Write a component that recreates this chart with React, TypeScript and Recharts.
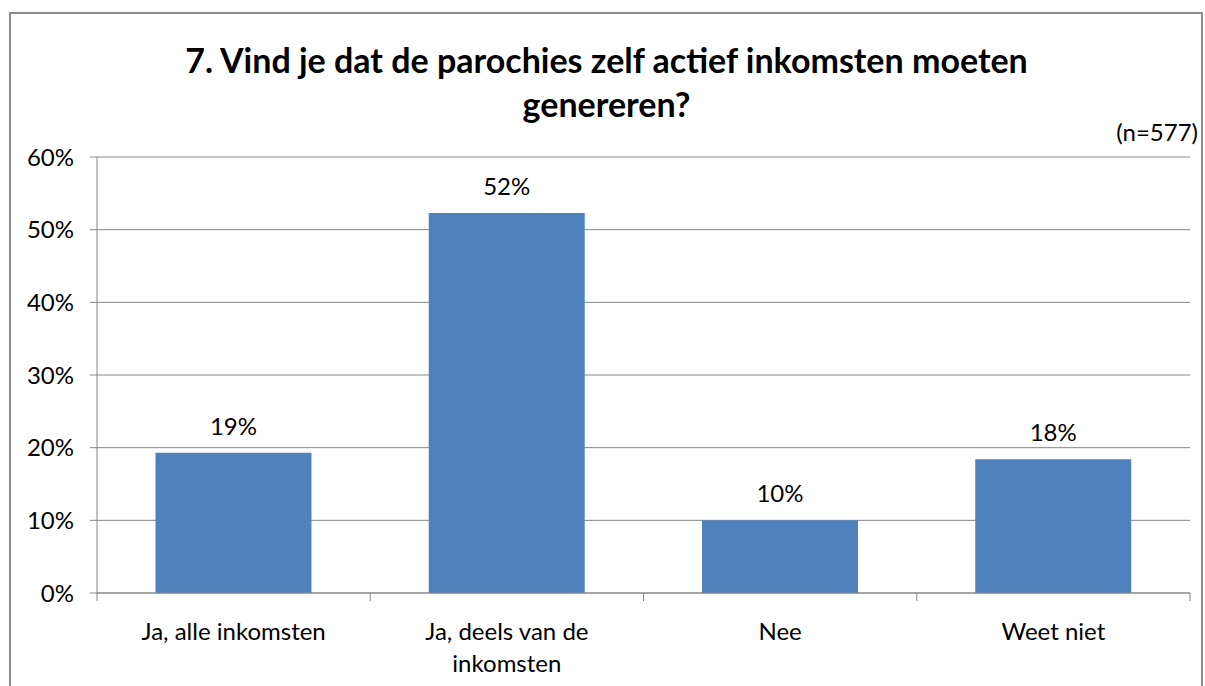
import React from "react";
import { BarChart, Bar, XAxis, YAxis, CartesianGrid, LabelList } from "recharts";

const categories = ["Ja, alle inkomsten", "Ja, deels van de\ninkomsten", "Nee", "Weet niet"];
const shares = [19.3, 52.3, 10.0, 18.4];
const yTicks = [0, 10, 20, 30, 40, 50, 60];
const title = ["7. Vind je dat de parochies zelf actief inkomsten moeten", "genereren?"];
const note = "(n=577)";

const data = categories.map((name, i) => ({ name, value: shares[i] }));

const FONT = "Lato, 'Open Sans', sans-serif";
const AXIS = "#868686";
const BAND = 1093 / 4; // plot width / number of categories

const CategoryTick = (props: any) => {
  const { x, y, payload, index } = props;
  const lines = String(payload.value).split("\n");
  return (
    <g>
      <line x1={x - BAND / 2} y1={y - 8} x2={x - BAND / 2} y2={y} stroke={AXIS} />
      {index === categories.length - 1 && (
        <line x1={x + BAND / 2} y1={y - 8} x2={x + BAND / 2} y2={y} stroke={AXIS} />
      )}
      <text x={x} y={y + 39} textAnchor="middle" fontSize={24} fill="#000" fontFamily={FONT}>
        {lines.map((l, i) => (
          <tspan key={i} x={x} dy={i === 0 ? 0 : 32}>
            {l}
          </tspan>
        ))}
      </text>
    </g>
  );
};

export default function App() {
  return (
    <div
      style={{
        position: "fixed",
        left: 0,
        top: 0,
        width: 1205,
        height: 686,
        overflow: "hidden",
        background: "#fff",
        fontFamily: FONT,
      }}
    >
      <div
        style={{
          position: "absolute",
          left: 9,
          top: 12,
          width: 1190,
          height: 700,
          border: "2px solid #8c8c8c",
        }}
      />
      <div
        style={{
          position: "absolute",
          left: 8,
          top: 38,
          width: 1197,
          textAlign: "center",
          fontWeight: 700,
          fontSize: 34,
          lineHeight: "44px",
          color: "#000",
        }}
      >
        {title.map((t) => (
          <div key={t}>{t}</div>
        ))}
      </div>
      <div style={{ position: "absolute", right: 7, top: 117, fontSize: 24, lineHeight: "30px", color: "#000" }}>
        {note}
      </div>
      <div style={{ position: "absolute", left: 8, top: 8 }}>
        <BarChart
          width={1197}
          height={678}
          data={data}
          margin={{ top: 149, right: 15, bottom: 33, left: 0 }}
          barCategoryGap="21.4%"
        >
          <CartesianGrid vertical={false} stroke={AXIS} strokeWidth={1} />
          <YAxis
            width={89}
            domain={[0, 60]}
            ticks={yTicks}
            interval={0}
            tickFormatter={(v: number) => `${v}%`}
            tickSize={7}
            tickMargin={16}
            axisLine={{ stroke: AXIS }}
            tickLine={{ stroke: AXIS }}
            tick={{ fontSize: 24, fill: "#000", fontFamily: FONT }}
          />
          <XAxis
            dataKey="name"
            height={60}
            interval={0}
            axisLine={{ stroke: AXIS }}
            tickLine={false}
            tick={<CategoryTick />}
          />
          <Bar dataKey="value" fill="#4F81BD" isAnimationActive={false}>
            <LabelList
              dataKey="value"
              position="top"
              offset={18}
              formatter={(v: any) => `${Math.round(Number(v))}%`}
              style={{ fontSize: 24, fill: "#000", fontFamily: FONT }}
            />
          </Bar>
        </BarChart>
      </div>
    </div>
  );
}
